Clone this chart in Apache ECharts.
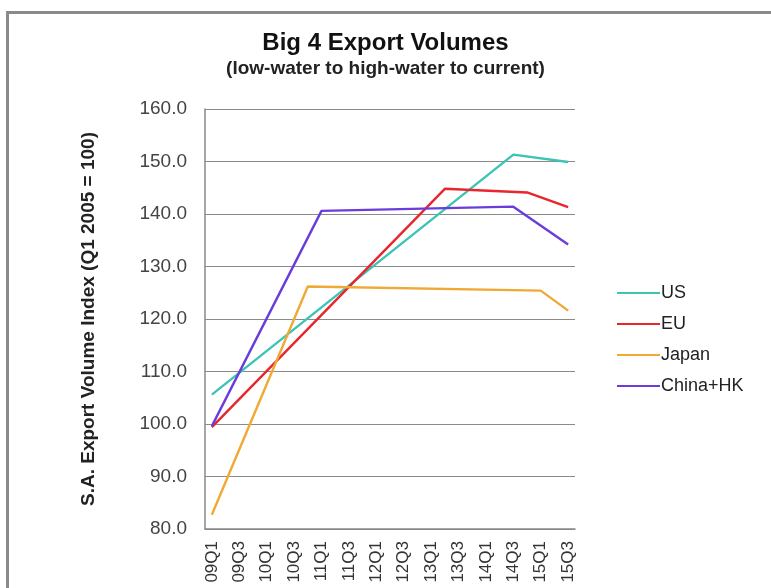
<!DOCTYPE html>
<html>
<head>
<meta charset="utf-8">
<script src="https://cdn.jsdelivr.net/npm/echarts@6/dist/echarts.min.js"></script>
<style>
  body { margin: 0; background: #fff; }
  #frame { position: absolute; left: 6px; top: 11px; width: 800px; height: 600px;
           border-top: 3px solid #8a8a8a; border-left: 3px solid #8a8a8a; }
  #chart { position: absolute; left: 0; top: 0; width: 771px; height: 588px; }
</style>
</head>
<body>
<div id="frame"></div>
<div id="chart"></div>
<script>
// quarters 09Q1 .. 15Q3, only every other one gets a label
const quarters = ['09Q1','09Q2','09Q3','09Q4','10Q1','10Q2','10Q3','10Q4',
                  '11Q1','11Q2','11Q3','11Q4','12Q1','12Q2','12Q3','12Q4',
                  '13Q1','13Q2','13Q3','13Q4','14Q1','14Q2','14Q3','14Q4',
                  '15Q1','15Q2','15Q3'];

// values only at the turning points, gaps are joined by straight lines
const usData = [105.6, null, null, null, null, null, null, null,
                null, null, null, null, null, null, null, null,
                null, null, null, null, null, null, 151.3, null,
                null, null, 149.9];
const euData = [99.4, null, null, null, null, null, null, null,
                null, null, null, null, null, null, null, null,
                null, 144.8, null, null, null, null, null, 144.1,
                null, null, 141.3];
const japanData = [82.7, null, null, null, null, null, null, 126.2,
                   null, null, null, null, null, null, null, null,
                   null, null, null, null, null, null, null, null,
                   125.4, null, 121.6];
const chinaData = [99.6, null, null, null, null, null, null, null,
                   140.6, null, null, null, null, null, null, null,
                   null, null, null, null, null, null, 141.4, null,
                   null, null, 134.2];

const seriesNames = ['US', 'EU', 'Japan', 'China+HK'];
const seriesColors = ['#3cc4b4', '#e8262c', '#f0a935', '#6a3ddb'];
const seriesData = [usData, euData, japanData, chinaData];

const font = 'Liberation Sans, Arial, sans-serif';

let chart = echarts.init(document.getElementById('chart'));

let option = {
    animation: false,
    title: {
        text: 'Big 4 Export Volumes',
        subtext: '(low-water to high-water to current)',
        left: 'center',
        top: 26,
        itemGap: 4,
        textStyle: { fontFamily: font, fontSize: 24, fontWeight: 'bold', color: '#111' },
        subtextStyle: { fontFamily: font, fontSize: 19, fontWeight: 'bold', color: '#222' }
    },
    legend: {
        orient: 'vertical',
        left: 612,
        top: 279,
        itemWidth: 43,
        itemHeight: 10,
        itemGap: 13,
        icon: 'path://M0,4 L43,4 L43,6 L0,6 Z',
        textStyle: { fontFamily: font, fontSize: 18, color: '#222', padding: [0, 0, 0, -4] },
        data: seriesNames
    },
    grid: {
        left: 205,
        right: 196,
        top: 109,
        bottom: 59
    },
    xAxis: {
        type: 'category',
        data: quarters,
        boundaryGap: true,
        axisLine: { lineStyle: { color: '#888', width: 1.5 } },
        axisTick: { show: false },
        axisLabel: {
            interval: 1,
            rotate: 90,
            margin: 12,
            fontFamily: font,
            fontSize: 17,
            color: '#333'
        }
    },
    yAxis: {
        type: 'value',
        min: 80,
        max: 160,
        interval: 10,
        name: 'S.A. Export Volume Index (Q1 2005 = 100)',
        nameLocation: 'middle',
        nameGap: 107,
        nameTextStyle: { fontFamily: font, fontSize: 19, fontWeight: 'bold', color: '#222' },
        axisLine: { show: true, lineStyle: { color: '#888', width: 1.5 } },
        axisTick: { show: false },
        splitLine: { lineStyle: { color: '#8a8a8a', width: 1.2 } },
        axisLabel: {
            margin: 18,
            fontFamily: font,
            fontSize: 19,
            color: '#444',
            formatter: (v) => v.toFixed(1)
        }
    },
    series: seriesNames.map((name, i) => ({
        name: name,
        type: 'line',
        data: seriesData[i],
        connectNulls: true,
        symbol: 'none',
        lineStyle: { width: 2.4, color: seriesColors[i] },
        itemStyle: { color: seriesColors[i] }
    }))
};

chart.setOption(option);
</script>
</body>
</html>
